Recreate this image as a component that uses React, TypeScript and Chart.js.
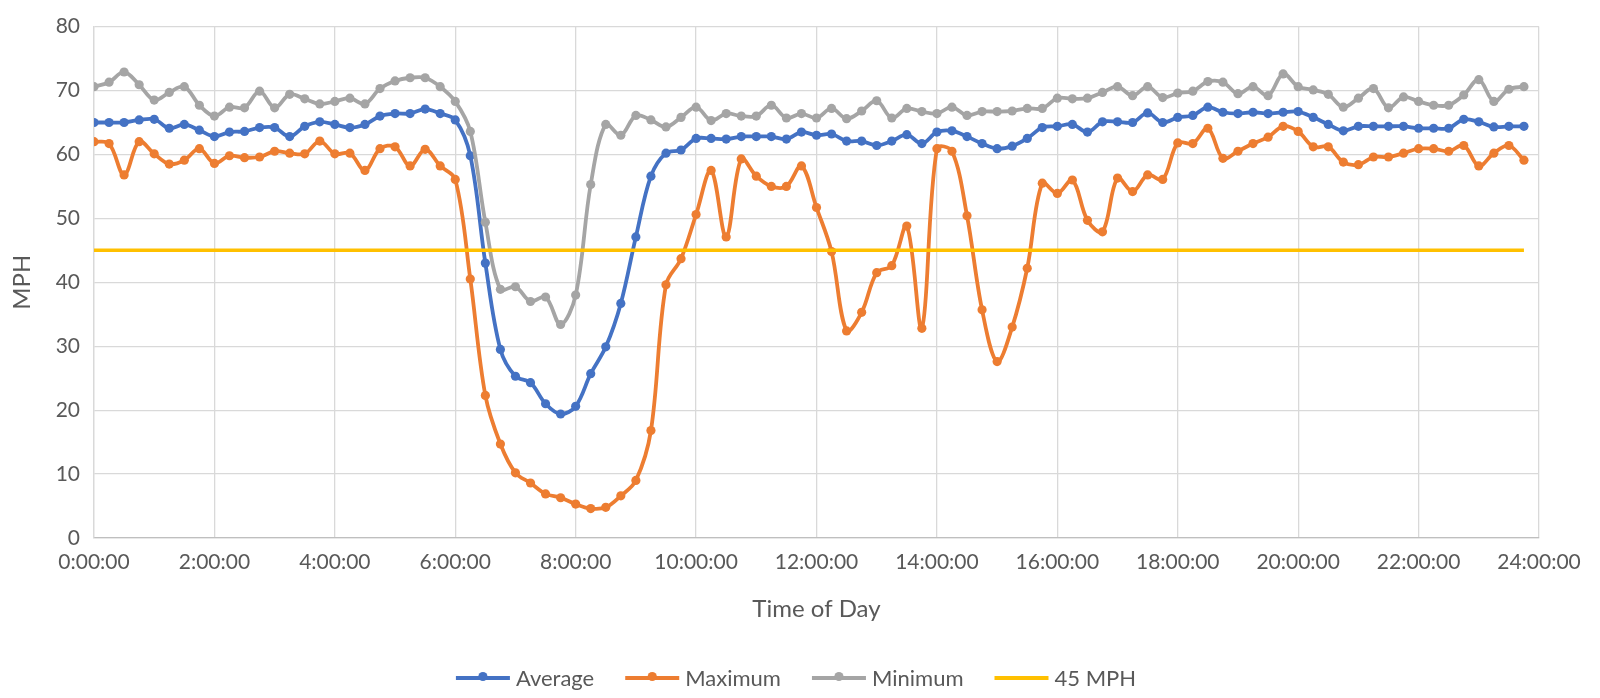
import React, { useEffect, useRef } from "react";
import { Chart, registerables } from "chart.js";

Chart.register(...registerables);

// Sampling interval of the speed records (hours): every 15 minutes from 0:00 to 23:45
const sampleStepHours = 0.25;

const averageMph = [
  65.0, 65.0, 65.0, 65.4, 65.5, 64.1, 64.7, 63.8, 62.8, 63.5, 63.6, 64.2, 64.2, 62.8, 64.4, 65.1,
  64.7, 64.2, 64.7, 66.0, 66.4, 66.4, 67.1, 66.4, 65.4, 59.8, 43.0, 29.5, 25.3, 24.3, 21.0, 19.4,
  20.6, 25.7, 29.9, 36.7, 47.1, 56.6, 60.2, 60.7, 62.5, 62.5, 62.4, 62.8, 62.8, 62.8, 62.4, 63.5,
  63.0, 63.2, 62.1, 62.1, 61.4, 62.1, 63.1, 61.7, 63.5, 63.7, 62.8, 61.7, 60.9, 61.3, 62.5, 64.2,
  64.4, 64.7, 63.5, 65.1, 65.1, 65.0, 66.5, 65.0, 65.8, 66.1, 67.4, 66.6, 66.4, 66.6, 66.4, 66.6,
  66.7, 65.8, 64.7, 63.7, 64.4, 64.4, 64.4, 64.4, 64.1, 64.1, 64.1, 65.5, 65.1, 64.3, 64.4, 64.4,
];

const maximumMph = [
  62.0, 61.7, 56.8, 62.0, 60.1, 58.5, 59.1, 60.9, 58.6, 59.8, 59.5, 59.6, 60.5, 60.2, 60.1, 62.1,
  60.1, 60.2, 57.5, 60.9, 61.2, 58.2, 60.8, 58.2, 56.1, 40.5, 22.3, 14.7, 10.2, 8.6, 6.9, 6.3,
  5.3, 4.6, 4.8, 6.6, 9.0, 16.8, 39.6, 43.7, 50.6, 57.5, 47.1, 59.3, 56.6, 55.0, 55.0, 58.2,
  51.7, 44.8, 32.4, 35.3, 41.5, 42.6, 48.8, 32.8, 60.9, 60.5, 50.4, 35.7, 27.6, 33.0, 42.2, 55.5,
  53.9, 56.0, 49.7, 47.9, 56.3, 54.2, 56.8, 56.1, 61.8, 61.7, 64.1, 59.4, 60.5, 61.7, 62.7, 64.4,
  63.6, 61.2, 61.2, 58.8, 58.4, 59.6, 59.6, 60.2, 60.9, 60.9, 60.5, 61.4, 58.2, 60.2, 61.4, 59.1,
];

const minimumMph = [
  70.6, 71.3, 72.9, 70.9, 68.5, 69.7, 70.6, 67.7, 66.0, 67.4, 67.3, 69.9, 67.3, 69.4, 68.7, 67.9,
  68.3, 68.8, 67.9, 70.3, 71.5, 72.0, 72.0, 70.6, 68.3, 63.6, 49.4, 38.9, 39.3, 37.0, 37.7, 33.4,
  38.0, 55.3, 64.7, 63.0, 66.1, 65.4, 64.3, 65.8, 67.4, 65.3, 66.4, 66.0, 66.0, 67.7, 65.7, 66.4,
  65.7, 67.2, 65.6, 66.8, 68.4, 65.7, 67.2, 66.7, 66.4, 67.4, 66.1, 66.7, 66.7, 66.8, 67.2, 67.2,
  68.8, 68.7, 68.8, 69.7, 70.6, 69.2, 70.6, 68.9, 69.6, 69.9, 71.4, 71.3, 69.5, 70.6, 69.2, 72.6,
  70.6, 70.1, 69.4, 67.4, 68.8, 70.3, 67.3, 69.0, 68.3, 67.7, 67.7, 69.3, 71.7, 68.3, 70.2, 70.6,
];

const thresholdMph = 45;

const seriesNames = ["Average", "Maximum", "Minimum", "45 MPH"];
const seriesColors = ["#4472C4", "#ED7D31", "#A5A5A5", "#FFC000"];

const xTickHours = [0, 2, 4, 6, 8, 10, 12, 14, 16, 18, 20, 22, 24];
const yTickValues = [0, 10, 20, 30, 40, 50, 60, 70, 80];

const xAxisTitle = "Time of Day";
const yAxisTitle = "MPH";

const FONT = "Lato";
const TEXT_COLOR = "#595959";

const toPoints = (values: number[]) =>
  values.map((v, i) => ({ x: i * sampleStepHours, y: v }));

const legendPlugin = {
  id: "excelLegend",
  afterDraw(chart: any) {
    const ctx = chart.ctx as CanvasRenderingContext2D;
    ctx.save();
    ctx.font = `22px ${FONT}`;
    const items = chart.data.datasets.map((ds: any) => ({
      label: ds.label as string,
      color: ds.borderColor as string,
      marker: (ds.pointRadius ?? 0) > 0,
    }));
    const lineLen = 54;
    const gapText = 6;
    const gapItem = 31;
    const widths = items.map((it: any) => ctx.measureText(it.label).width);
    const total =
      widths.reduce((a: number, w: number) => a + lineLen + gapText + w, 0) +
      gapItem * (items.length - 1);
    let x = 796 - total / 2;
    const y = 678;
    items.forEach((it: any, i: number) => {
      ctx.strokeStyle = it.color;
      ctx.lineWidth = 3.8;
      ctx.beginPath();
      ctx.moveTo(x, y);
      ctx.lineTo(x + lineLen, y);
      ctx.stroke();
      if (it.marker) {
        ctx.fillStyle = it.color;
        ctx.beginPath();
        ctx.arc(x + lineLen / 2, y - 1.5, 4.6, 0, Math.PI * 2);
        ctx.fill();
      }
      ctx.fillStyle = TEXT_COLOR;
      ctx.textBaseline = "middle";
      ctx.textAlign = "left";
      ctx.fillText(it.label, x + lineLen + gapText, y + 1);
      x += lineLen + gapText + widths[i] + gapItem;
    });
    ctx.restore();
  },
};

export default function App() {
  const canvasRef = useRef<HTMLCanvasElement | null>(null);

  useEffect(() => {
    if (!canvasRef.current) return;
    const lastHour = (averageMph.length - 1) * sampleStepHours;
    const seriesValues = [averageMph, maximumMph, minimumMph];
    const datasets: any[] = seriesValues.map((vals, k) => ({
      label: seriesNames[k],
      data: toPoints(vals),
      borderColor: seriesColors[k],
      backgroundColor: seriesColors[k],
      pointBackgroundColor: seriesColors[k],
      pointBorderColor: seriesColors[k],
      pointBorderWidth: 0,
      pointRadius: 4.6,
      borderWidth: 3.8,
      tension: 0.35,
      fill: false,
      order: 3 - k,
    }));
    datasets.push({
      label: seriesNames[3],
      data: [
        { x: 0, y: thresholdMph },
        { x: lastHour, y: thresholdMph },
      ],
      borderColor: seriesColors[3],
      backgroundColor: seriesColors[3],
      pointRadius: 0,
      borderWidth: 3.5,
      tension: 0,
      fill: false,
      order: 0,
    });

    const chart = new Chart(canvasRef.current, {
      type: "line",
      data: { datasets },
      plugins: [legendPlugin],
      options: {
        animation: false,
        responsive: false,
        events: [],
        layout: { padding: { left: 0, top: 14, right: 61, bottom: 40 } },
        plugins: {
          legend: { display: false },
          tooltip: { enabled: false },
        },
        scales: {
          x: {
            type: "linear",
            min: 0,
            max: 24,
            afterBuildTicks: (scale: any) => {
              scale.ticks = xTickHours.map((v) => ({ value: v }));
            },
            ticks: {
              callback: (v: any) => `${v}:00:00`,
              color: TEXT_COLOR,
              font: { family: FONT, size: 21 },
              padding: 12,
              maxRotation: 0,
              autoSkip: false,
            },
            grid: { color: "#D9D9D9", lineWidth: 1.3, drawTicks: false },
            border: { color: "#BFBFBF", width: 1.3 },
            title: {
              display: true,
              text: xAxisTitle,
              color: TEXT_COLOR,
              font: { family: FONT, size: 24 },
              padding: { top: 0, bottom: 34 },
            },
            afterFit: (scale: any) => {
              scale.height = 120;
            },
          },
          y: {
            type: "linear",
            min: 0,
            max: 80,
            afterBuildTicks: (scale: any) => {
              scale.ticks = yTickValues.map((v) => ({ value: v }));
            },
            ticks: {
              color: TEXT_COLOR,
              font: { family: FONT, size: 21 },
              padding: 14,
            },
            grid: { color: "#D9D9D9", lineWidth: 1.3, drawTicks: false },
            border: { color: "#D9D9D9", width: 1.3 },
            title: {
              display: true,
              text: yAxisTitle,
              color: TEXT_COLOR,
              font: { family: FONT, size: 24 },
              padding: { top: 8, bottom: 0 },
            },
            afterFit: (scale: any) => {
              scale.width = 94;
            },
          },
        },
      } as any,
    });
    return () => chart.destroy();
  }, []);

  return (
    <div style={{ position: "fixed", left: 0, top: 0, width: 1600, height: 698, background: "#fff" }}>
      <canvas ref={canvasRef} width={1600} height={698} />
    </div>
  );
}
